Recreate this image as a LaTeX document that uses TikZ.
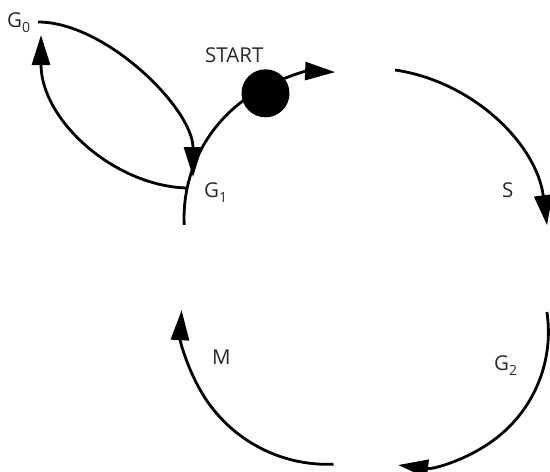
\documentclass[tikz,border=0pt]{standalone}
\usepackage{fontspec}
\setmainfont{Open Sans}
\usetikzlibrary{arrows.meta}
\definecolor{inkgray}{RGB}{40,40,40}
\newcommand{\lbl}[2]{#1\raisebox{-5pt}{\fontsize{14}{14}\selectfont #2}}
\begin{document}
\begin{tikzpicture}[x=1pt,y=1pt,
  flow/.style={line width=2.8pt,-{Triangle[length=30pt,width=18pt]}},
  tag/.style={inner sep=0pt,anchor=base west,text=inkgray,font=\fontsize{20.5}{24}\selectfont},
  token/.style={circle,fill=black,minimum size=48pt,inner sep=0pt}]
\useasboundingbox (0,0) rectangle (550,-472);

% text labels
\node[tag] (g0) at (7,-27.5) {\lbl{G}{0}};
\node[tag] (lstart) at (205,-62) {START};
\node[tag] (g1) at (204,-197) {\lbl{G}{1}};
\node[tag] (ls) at (502,-197) {S};
\node[tag] (g2) at (494,-370) {\lbl{G}{2}};
\node[tag] (lm) at (212,-364) {M};

% end points of the cycle arcs
\coordinate (c1) at (184.2,-224.9);
\coordinate (c2) at (395.1,-70);
\coordinate (c3) at (546.9,-312);
\coordinate (c4) at (333.5,-464.2);

% the four quarters of the cycle
\draw[flow] (c1) arc[start angle=182.7,end angle=88,radius=146];
\draw[flow] (c2) arc[start angle=81.5,end angle=7.3,radius=180];
\draw[flow] (c3) arc[start angle=8.6,end angle=-97,radius=134];
\draw[flow] (c4) arc[start angle=-87.6,end angle=-183.2,radius=146];

% side loop between G0 and G1
\coordinate (g0out) at (38,-22);
\coordinate (g0in) at (41,-35);
\coordinate (g1in) at (193,-177);
\coordinate (g1out) at (187,-188);
\draw[flow] (g0out) .. controls (106,-22) and (193,-109) .. (g1in);
\draw[flow] (g1out) .. controls (114,-186) and (41,-120) .. (g0in);

% start token
\node[token] (tok) at (265.5,-93.3) {};
\end{tikzpicture}
\end{document}
